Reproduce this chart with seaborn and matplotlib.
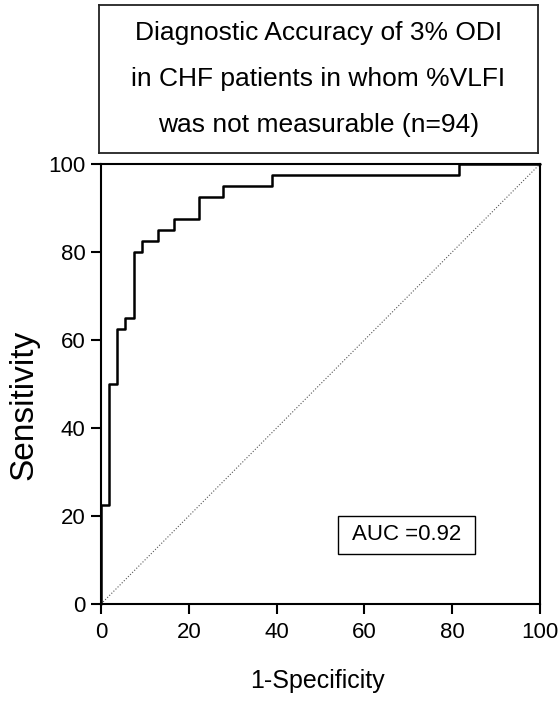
import matplotlib
matplotlib.use("Agg")
import matplotlib.pyplot as plt
from matplotlib.patches import Rectangle
import seaborn as sns
import pandas as pd

# ROC points (1-specificity %, sensitivity %), n=94 (40 positive / 54 negative)
fpr = [0, 0, 1.85, 3.70, 5.56, 7.41, 9.26, 12.96, 16.67, 22.22, 27.78, 38.89, 81.48, 100]
sens = [0, 22.5, 50, 62.5, 65, 80, 82.5, 85, 87.5, 92.5, 95, 97.5, 100, 100]
chance = [0, 100]
x_ticks = [0, 20, 40, 60, 80, 100]
y_ticks = [0, 20, 40, 60, 80, 100]
title_lines = ["Diagnostic Accuracy of 3% ODI",
               "in CHF patients in whom %VLFI",
               "was not measurable (n=94)"]
auc_text = "AUC =0.92"

sns.set_style("ticks")
plt.rcParams["font.family"] = ["Liberation Sans", "DejaVu Sans"]
plt.rcParams["text.color"] = "black"
plt.rcParams["axes.labelcolor"] = "black"
plt.rcParams["xtick.color"] = "black"
plt.rcParams["ytick.color"] = "black"

W, H = 560, 702
fig = plt.figure(figsize=(W / 100, H / 100), dpi=100)

# main ROC axes
ax = fig.add_axes([101 / W, 1 - 604 / H, 439 / W, 440 / H])
roc = pd.DataFrame({"fpr": fpr, "sens": sens})
sns.lineplot(data=roc, x="fpr", y="sens", estimator=None, sort=False,
             drawstyle="steps-post", color="black", lw=1.8, ax=ax,
             clip_on=False, zorder=3)
ax.plot(chance, chance, ls=":", color="#555555", lw=0.8, zorder=2)

ax.set_xlim(0, 100)
ax.set_ylim(0, 100)
ax.set_xticks(x_ticks)
ax.set_yticks(y_ticks)
for side in ["top", "right", "bottom", "left"]:
    ax.spines[side].set_visible(True)
    ax.spines[side].set_linewidth(1.5)
    ax.spines[side].set_color("black")
ax.tick_params(direction="out", length=7, width=1.5, labelsize=16,
               color="black", labelcolor="black")
ax.tick_params(axis="x", pad=6)
ax.tick_params(axis="y", pad=4)

ax.set_xlabel("1-Specificity", fontsize=18)
ax.xaxis.set_label_coords(0.494, -0.148)
ax.set_ylabel("Sensitivity", fontsize=24)
ax.yaxis.label.set_va("center")
ax.yaxis.set_label_coords(-0.175, 0.452)

# AUC box
ax.add_patch(Rectangle((54.0, 11.4), 31.2, 8.7, facecolor="white",
                       edgecolor="black", lw=1.0, zorder=4))
ax.text(69.6, 15.7, auc_text, ha="center", va="center", fontsize=16, zorder=5)

# title box
tbox = fig.add_axes([99 / W, 1 - 153 / H, 439 / W, 148 / H])
tbox.set_xticks([])
tbox.set_yticks([])
for side in ["top", "right", "bottom", "left"]:
    tbox.spines[side].set_visible(True)
    tbox.spines[side].set_linewidth(1.3)
    tbox.spines[side].set_color("#222222")
for i, line in enumerate(title_lines):
    tbox.text(0.5, [0.811, 0.5, 0.189][i], line, ha="center", va="center",
              fontsize=19, transform=tbox.transAxes)

fig.savefig("out.png", dpi=100)
